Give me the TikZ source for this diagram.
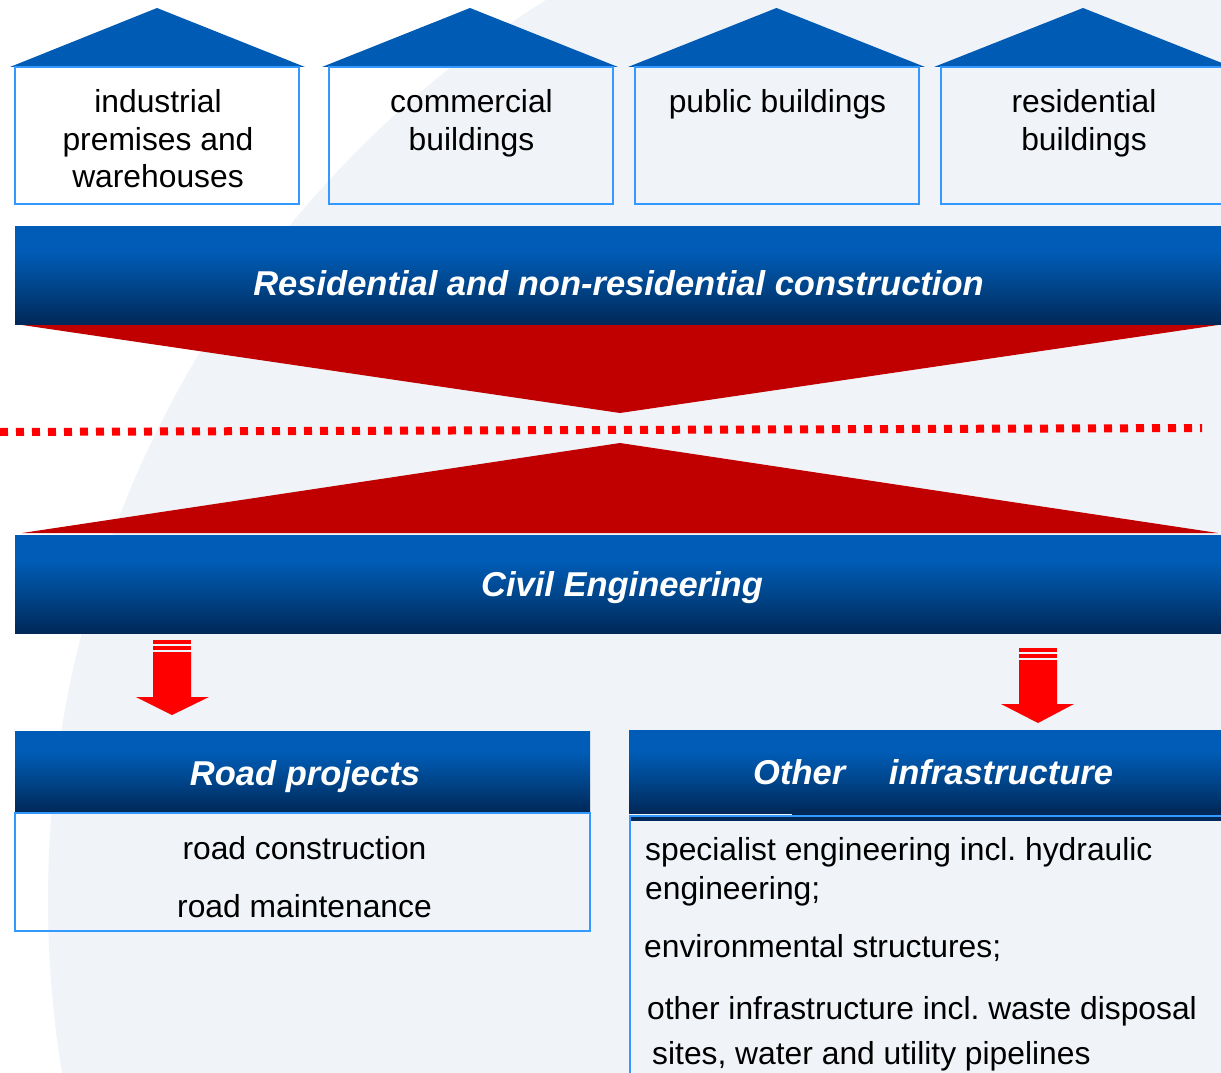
\documentclass[tikz,border=0pt]{standalone}
\usepackage{fontspec}
\setmainfont{Liberation Sans}
\frenchspacing
\definecolor{roofblue}{RGB}{0,91,180}
\definecolor{barblue}{RGB}{0,92,182}
\definecolor{barmid}{RGB}{0,70,140}
\definecolor{barnavy}{RGB}{0,40,88}
\definecolor{edgeblue}{RGB}{51,153,255}
\definecolor{darkred}{RGB}{192,0,0}
\definecolor{globe}{RGB}{240,243,248}
\pgfdeclareverticalshading{barshade}{100bp}{color(0bp)=(barnavy); color(25bp)=(barnavy); color(45bp)=(barmid); color(62bp)=(barblue); color(100bp)=(barblue)}
\tikzset{
  roof/.style={fill=roofblue},
  housebox/.style={draw=edgeblue, line width=2.2pt, rectangle, inner sep=0pt, minimum width=284pt, minimum height=137pt},
  housetext/.style={font=\fontsize{31.8}{37.7}\selectfont, align=center, anchor=north, inner sep=0pt},
  bar/.style={rectangle, inner sep=0pt, shade, shading=barshade},
  bartext/.style={text=white, font=\fontsize{34.5}{40}\selectfont\bfseries\itshape, anchor=base, inner sep=0pt},
  body/.style={font=\fontsize{31.8}{39}\selectfont, inner sep=0pt},
  listbox/.style={draw=edgeblue, line width=2.2pt, rectangle, inner sep=0pt},
  redtri/.style={fill=darkred},
  blockarrow/.style={fill=red},
  redline/.style={draw=red, line width=8pt, dash pattern=on 8pt off 8pt},
}
\begin{document}
\begin{tikzpicture}[x=1pt,y=-1pt]
\useasboundingbox (0,0) rectangle (1221,1073);
% background
\fill[white] (0,0) rectangle (1221,1073);
\begin{scope}
  \clip (0,0) rectangle (1221,1073);
  \fill[globe] (1110,900) circle[radius=1062pt];
\end{scope}

% houses
\fill[roof] (10,67) -- (157,8) -- (305,67) -- cycle;
\fill[roof] (322,67) -- (470,8) -- (618,67) -- cycle;
\fill[roof] (628,67) -- (776.5,8) -- (925,67) -- cycle;
\fill[roof] (934,67) -- (1083,8) -- (1232,67) -- cycle;
\node[housebox] (h1) at (157,135.5) {};
\node[housebox] (h2) at (471,135.5) {};
\node[housebox] (h3) at (777,135.5) {};
\node[housebox] (h4) at (1083,135.5) {};
\node[housetext] (t1) at (158,89.2) {industrial\\premises and\\warehouses};
\node[housetext] (t2) at (471.5,89.2) {commercial\\buildings};
\node[housetext] (t3) at (777.5,89.2) {public buildings};
\node[housetext] (t4) at (1084,89.2) {residential\\buildings};

% top bar
\node[bar, minimum width=1206pt, minimum height=98pt] (resbar) at (618,275) {};
\node[bartext] (restext) at (618.5,295) {Residential and non-residential construction};

% red triangles and dotted line
\fill[redtri] (22,325) -- (1218,325) -- (620,413) -- cycle;
\draw[redline] (0,432) -- (1202,428);
\fill[redtri] (620,443) -- (1218,533) -- (22,533) -- cycle;

% civil engineering bar
\node[bar, minimum width=1206pt, minimum height=98pt] (civbar) at (618,584) {};
\node[bartext] (civtext) at (622,596) {Civil Engineering};

% block arrows
\fill[blockarrow] (153,640) rectangle (191,643.5);
\fill[blockarrow] (153,645.5) rectangle (191,650);
\fill[blockarrow] (153,652) -- (191,652) -- (191,697) -- (209,697) -- (172,715) -- (136,697) -- (153,697) -- cycle;
\fill[blockarrow] (1019,648) rectangle (1057,651.5);
\fill[blockarrow] (1019,653.5) rectangle (1057,658);
\fill[blockarrow] (1019,660) -- (1057,660) -- (1057,704) -- (1074,704) -- (1038,723) -- (1001,704) -- (1019,704) -- cycle;

% road projects
\node[bar, minimum width=575pt, minimum height=81pt] (roadbar) at (302.5,771.5) {};
\node[bartext] (roadtext) at (305,785) {Road projects};
\node[listbox, minimum width=575pt, minimum height=118pt] (roadbox) at (302.5,872) {};
\node[body, align=center, anchor=north] (roaditems) at (304.5,836.2) {road construction\\[19pt]road maintenance};

% other infrastructure
\node[bar, minimum width=596pt, minimum height=83pt] (othbar) at (927,771.5) {};
\node[listbox, minimum width=600pt, minimum height=264pt] (othbox) at (930,948) {};
\fill[barnavy] (792,809) rectangle (1225,814.6);
\fill[barnavy] (631.2,817.4) rectangle (1225,821);
\node[bartext, anchor=base west] (othtext) at (753,784) {Other\hspace{34pt} infrastructure};
\node[body, align=left, anchor=north west] (oth1) at (645,837.2) {specialist engineering incl. hydraulic\\engineering;};
\node[body, anchor=base west] (oth2) at (644,957) {environmental structures;};
\node[body, align=left, anchor=north west] (oth3) at (647,996) {other infrastructure incl. waste disposal\\[6pt]\hspace*{5pt}sites, water and utility pipelines};
\end{tikzpicture}
\end{document}
